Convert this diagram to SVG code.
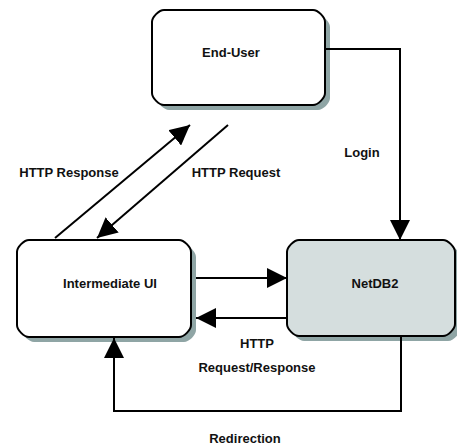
<svg xmlns="http://www.w3.org/2000/svg" width="457" height="445" viewBox="0 0 457 445">
<style>
.box{stroke:#000;stroke-width:2;stroke-linejoin:round}
.shadow{fill:#8fa5a5;stroke:none}
.lbl{font-family:"Liberation Sans",Arial,sans-serif;font-weight:bold;font-size:13px;fill:#111;text-anchor:middle}
.conn{fill:none;stroke:#000;stroke-width:2}
</style>
<defs>
<marker id="arr" markerUnits="userSpaceOnUse" markerWidth="20" markerHeight="20" viewBox="0 0 20 20" refX="20" refY="10" orient="auto">
<path d="M0,0 L20,10 L0,20 Z" fill="#000"/>
</marker>
</defs>
<rect width="457" height="445" fill="#fff"/>
<g id="end-user">
<path class="shadow" transform="translate(5,5)" d="M164,10 H313 C318,10 325,17 325,22 V93 C325,98 318,105 313,105 H164 C159,105 152,98 152,93 V22 C152,17 159,10 164,10 Z"/>
<path class="box" fill="#fff" d="M164,10 H313 C318,10 325,17 325,22 V93 C325,98 318,105 313,105 H164 C159,105 152,98 152,93 V22 C152,17 159,10 164,10 Z"/>
<text class="lbl" x="231" y="57">End-User</text>
</g>
<g id="intermediate-ui">
<path class="shadow" transform="translate(5,5)" d="M29,240 H179 C184,240 191,247 191,252 V325 C191,330 184,337 179,337 H29 C24,337 17,330 17,325 V252 C17,247 24,240 29,240 Z"/>
<path class="box" fill="#fff" d="M29,240 H179 C184,240 191,247 191,252 V325 C191,330 184,337 179,337 H29 C24,337 17,330 17,325 V252 C17,247 24,240 29,240 Z"/>
<text class="lbl" x="110" y="288">Intermediate UI</text>
</g>
<g id="netdb2">
<path class="shadow" transform="translate(5,5)" d="M299,240 H443 C448,240 455,247 455,252 V324 C455,329 448,336 443,336 H299 C294,336 287,329 287,324 V252 C287,247 294,240 299,240 Z"/>
<path class="box" fill="#d5dede" d="M299,240 H443 C448,240 455,247 455,252 V324 C455,329 448,336 443,336 H299 C294,336 287,329 287,324 V252 C287,247 294,240 299,240 Z"/>
<text class="lbl" x="375" y="288">NetDB2</text>
</g>
<g id="connectors">
<path class="conn" d="M325,49 H400 V240" marker-end="url(#arr)"/>
<path class="conn" d="M55,238 L190,125" marker-end="url(#arr)"/>
<path class="conn" d="M228,125 L97,238" marker-end="url(#arr)"/>
<path class="conn" d="M196,278 H287" marker-end="url(#arr)"/>
<path class="conn" d="M287,318 H196" marker-end="url(#arr)"/>
<path class="conn" d="M401,337 V411 H114 V338" marker-end="url(#arr)"/>
</g>
<g id="labels">
<text class="lbl" x="362" y="157">Login</text>
<text class="lbl" x="69" y="177">HTTP Response</text>
<text class="lbl" x="236" y="177">HTTP Request</text>
<text class="lbl" x="257" y="348">HTTP</text>
<text class="lbl" x="257" y="372">Request/Response</text>
<text class="lbl" x="245" y="443">Redirection</text>
</g>
</svg>
